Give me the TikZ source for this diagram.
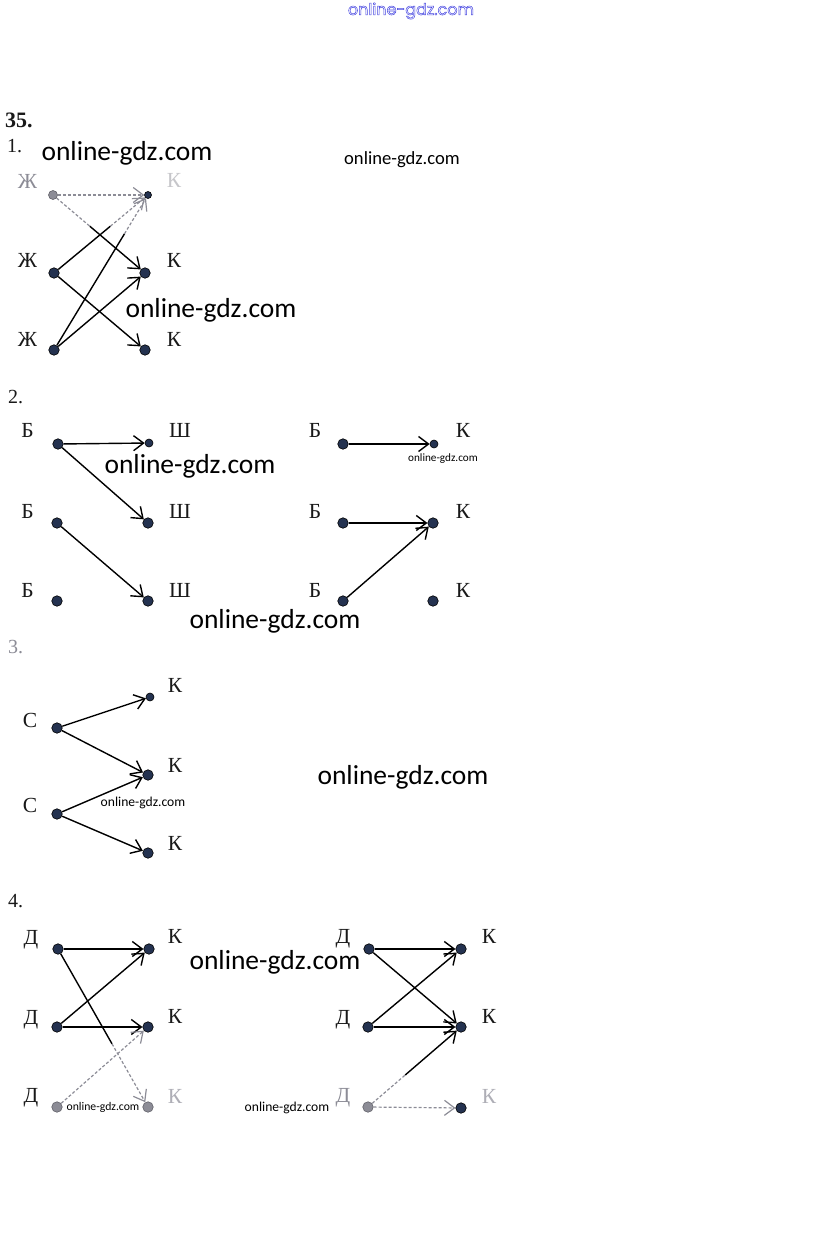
\documentclass[tikz,border=0pt]{standalone}
\usepackage{fontspec}
\setmainfont{Liberation Serif}
\newfontfamily\wmfont{Carlito}
\newfontfamily\topfont{Poppins}
\usepackage{tikz}
\usetikzlibrary{arrows.meta,positioning,calc}
\usepackage{xcolor}
\definecolor{dotfill}{RGB}{36,50,80}
\definecolor{fade}{RGB}{140,140,150}
\definecolor{lettergray}{RGB}{25,25,25}
\definecolor{wmblue}{RGB}{70,70,225}
\tikzstyle{dot}=[circle, draw=black, line width=0.6pt, fill=dotfill, minimum size=10.5pt, inner sep=0pt]
\tikzstyle{smalldot}=[dot, minimum size=8pt]
\tikzstyle{fadedot}=[dot, draw=fade!70!black, fill=fade]
\tikzstyle{letter}=[anchor=base, inner sep=0pt, text=lettergray, font=\fontsize{21.5}{25}\selectfont]
\tikzstyle{number}=[anchor=base west, inner sep=0pt, text=lettergray, font=\fontsize{20}{24}\selectfont]
\tikzstyle{link}=[-{Straight Barb[length=10pt,width=15pt]}, line width=1.4pt]
\tikzstyle{fadeline}=[line width=1.2pt, draw=fade, densely dashed]
\tikzstyle{fadelink}=[fadeline, -{Straight Barb[length=10pt,width=15pt]}]
\tikzset{wm/.style={inner sep=0pt, font=\wmfont\fontsize{#1}{#1}\selectfont}}

\begin{document}
\begin{tikzpicture}[x=1pt, y=-1pt]
\useasboundingbox (0,0) rectangle (823,1234);

% watermarks
\node[inner sep=0pt, text=wmblue, font=\topfont\fontsize{16}{18}\selectfont] (wm0) at (411,11)
  {\special{pdf:literal direct 0.5 w 1 Tr}online-gdz.com\special{pdf:literal direct 0 Tr}};
\node[wm=27.5] (wm1) at (127,153) {online-gdz.com};
\node[wm=18.6] (wm2) at (402,160) {online-gdz.com};
\node[wm=27.5] (wm3) at (211,310) {online-gdz.com};
\node[wm=27.5] (wm4) at (190,466) {online-gdz.com};
\node[wm=11.2] (wm5) at (443,459) {online-gdz.com};
\node[wm=27.5] (wm6) at (275,621) {online-gdz.com};
\node[wm=27.5] (wm7) at (403,777) {online-gdz.com};
\node[wm=13.6] (wm8) at (143,803) {online-gdz.com};
\node[wm=27.5] (wm9) at (275,962) {online-gdz.com};

\node[number, font=\bfseries\fontsize{22}{26}\selectfont] (n0) at (5,127) {35.};

% 1
\node[number] (n1) at (7,152) {1.};
\node[fadedot, minimum size=9pt] (a1) at (53,195) {};
\node[dot] (a2) at (54,273) {};
\node[dot] (a3) at (54,350) {};
\node[smalldot, minimum size=7pt] (b1) at (148,195) {};
\node[dot] (b2) at (145,273) {};
\node[dot] (b3) at (145,350) {};
\node[letter, text=fade] (la1) at (27.5,188) {Ж};
\node[letter] (la2) at (27.5,267) {Ж};
\node[letter] (la3) at (27.5,346) {Ж};
\node[letter, text=fade!50] (lb1) at (174,187) {К};
\node[letter] (lb2) at (174,267) {К};
\node[letter] (lb3) at (174,346) {К};
\draw[fadelink] (a1) -- (b1);
\draw[fadeline] (a1) -- ($(a1)!0.4!(b2)$) coordinate (a1b2);
\draw[link] (a1b2) -- (b2);
\draw[line width=1.4pt] (a2) -- ($(a2)!0.6!(b1)$) coordinate (a2b1);
\draw[fadelink] (a2b1) -- (b1);
\draw[link] (a2) -- (b3);
\draw[line width=1.4pt] (a3) -- ($(a3)!0.75!(b1)$) coordinate (a3b1);
\draw[fadelink] (a3b1) -- (b1);
\draw[link] (a3) -- (b2);

% 2
\node[number] (n2) at (8,403) {2.};
\node[dot] (c1) at (58,444) {};
\node[dot] (c2) at (57,523) {};
\node[dot] (c3) at (57,601) {};
\node[smalldot] (d1) at (149,443) {};
\node[dot] (d2) at (148,523) {};
\node[dot] (d3) at (148,601) {};
\foreach \y/\n in {437/1,518/2,597/3} {
  \node[letter] (lc\n) at (27.5,\y) {Б};
  \node[letter] (ld\n) at (180,\y) {Ш};
}
\draw[link] (c1) -- (d1);
\draw[link] (c1) -- (d2);
\draw[link] (c2) -- (d3);

\node[dot] (e1) at (343,444) {};
\node[dot] (e2) at (343,523) {};
\node[dot] (e3) at (343,601) {};
\node[smalldot] (f1) at (434,444) {};
\node[dot] (f2) at (433,523) {};
\node[dot] (f3) at (433,601) {};
\foreach \y/\n in {437/1,518/2,597/3} {
  \node[letter] (le\n) at (315,\y) {Б};
  \node[letter] (lf\n) at (463,\y) {К};
}
\draw[link] (e1) -- (f1);
\draw[link] (e2) -- (f2);
\draw[link] (e3) -- (f2);

% 3
\node[number, text=fade] (n3) at (8,653) {3.};
\node[dot] (g1) at (57,728) {};
\node[dot] (g2) at (57,814) {};
\node[smalldot] (h1) at (150,697) {};
\node[dot] (h2) at (148,775) {};
\node[dot] (h3) at (148,853) {};
\node[letter] (lg1) at (30,727) {С};
\node[letter] (lg2) at (30,812) {С};
\node[letter] (lh1) at (175,692) {К};
\node[letter] (lh2) at (175,772) {К};
\node[letter] (lh3) at (175,850) {К};
\draw[link] (g1) -- (h1);
\draw[link] (g1) -- (h2);
\draw[link] (g2) -- (h2);
\draw[link] (g2) -- (h3);

% 4
\node[number] (n4) at (8,907) {4.};
\node[dot] (p1) at (58,949) {};
\node[dot] (p2) at (57,1027) {};
\node[fadedot] (p3) at (57,1107) {};
\node[dot] (q1) at (149,949) {};
\node[dot] (q2) at (148,1027) {};
\node[fadedot] (q3) at (148,1107) {};
\node[letter] (lp1) at (31,944) {Д};
\node[letter] (lp2) at (31,1024) {Д};
\node[letter] (lp3) at (31,1102) {Д};
\node[letter] (lq1) at (175,943) {К};
\node[letter] (lq2) at (175,1023) {К};
\node[letter, text=fade!70] (lq3) at (175,1103) {К};
\draw[link] (p1) -- (q1);
\draw[line width=1.4pt] (p1) -- ($(p1)!0.6!(q3)$) coordinate (p1q3);
\draw[fadelink] (p1q3) -- (q3);
\draw[link] (p2) -- (q1);
\draw[link] (p2) -- (q2);
\draw[fadelink] (p3) -- (q2);

\node[dot] (r1) at (369,949) {};
\node[dot] (r2) at (368,1027) {};
\node[fadedot] (r3) at (368,1107) {};
\node[dot] (s1) at (461,949) {};
\node[dot] (s2) at (461,1027) {};
\node[dot] (s3) at (461,1108) {};
\node[letter] (lr1) at (343,943) {Д};
\node[letter] (lr2) at (343,1024) {Д};
\node[letter, text=fade] (lr3) at (343,1102) {Д};
\node[letter] (ls1) at (489,943) {К};
\node[letter] (ls2) at (489,1023) {К};
\node[letter, text=fade!70] (ls3) at (489,1103) {К};
\draw[link] (r1) -- (s1);
\draw[link] (r1) -- (s2);
\draw[link] (r2) -- (s1);
\draw[link] (r2) -- (s2);
\draw[fadeline] (r3) -- ($(r3)!0.4!(s2)$) coordinate (r3s2);
\draw[link] (r3s2) -- (s2);
\draw[fadelink] (r3) -- (s3);

\node[wm=11.7] (wm10) at (103,1107) {online-gdz.com};
\node[wm=13.6] (wm11) at (287,1108) {online-gdz.com};
\end{tikzpicture}
\end{document}
